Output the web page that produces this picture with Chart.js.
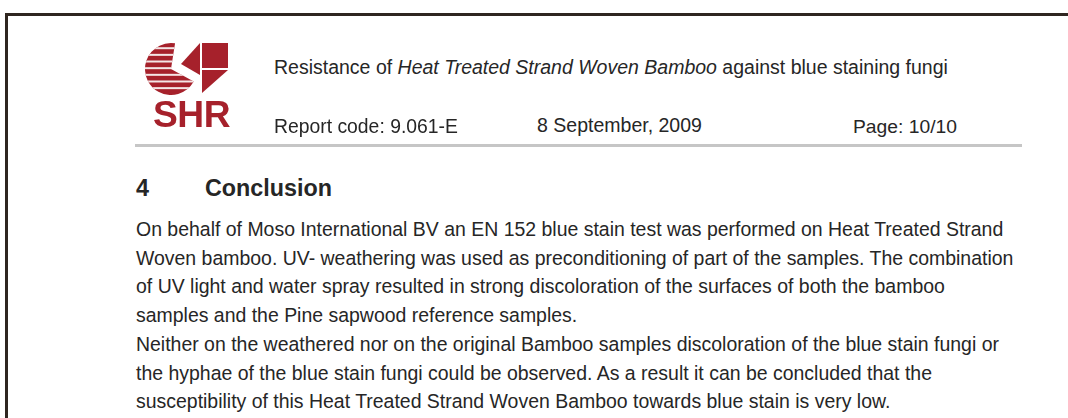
<!DOCTYPE html>
<html>
<head>
<meta charset="utf-8">
<script src="https://cdn.jsdelivr.net/npm/chart.js@4.4.0/dist/chart.umd.min.js"></script>
<style>
html, body { margin: 0; padding: 0; background: #fff; }
body { width: 1068px; height: 418px; overflow: hidden; position: relative;
       font-family: "Liberation Sans", Arial, sans-serif; color: #262626; }
#frame { position: absolute; left: 5px; top: 13px; width: 1200px; height: 600px;
         border-left: 3px solid #2f2620; border-top: 3px solid #2f2620; }
#rule { position: absolute; left: 135px; top: 144px; width: 887px; height: 3px; background: #c6c6c6; }
#logo { position: absolute; left: 140px; top: 38px; }
.t { position: absolute; white-space: nowrap; line-height: 1; font-size: 15px; }
.b { font-weight: bold; }
#shr { color: #a6212b; font-weight: bold; letter-spacing: -0.5px; }
</style>
</head>
<body>
<div id="frame"></div>
<canvas id="logo" width="95" height="62"></canvas>
<div id="rule"></div>
<div id="page"></div>

<script>
// texts of the page
const logoText = 'SHR';
const headerTitle = ['Resistance of ', 'Heat Treated Strand Woven Bamboo', ' against blue staining fungi'];
const headerMeta = ['Report code: 9.061-E', '8 September, 2009', 'Page: 10/10'];
const sectionNumber = '4';
const sectionTitle = 'Conclusion';
const paragraphLines = [
    'On behalf of Moso International BV an EN 152 blue stain test was performed on Heat Treated Strand',
    'Woven bamboo. UV- weathering was used as preconditioning of part of the samples. The combination',
    'of UV light and water spray resulted in strong discoloration of the surfaces of both the bamboo',
    'samples and the Pine sapwood reference samples.',
    'Neither on the weathered nor on the original Bamboo samples discoloration of the blue stain fungi or',
    'the hyphae of the blue stain fungi could be observed. As a result it can be concluded that the',
    'susceptibility of this Heat Treated Strand Woven Bamboo towards blue stain is very low.'
];

// logo: striped bowl (degrees of the circle) + blank part
const bowlShare = [250, 110];
const bowlStripes = 7;

const page = document.getElementById('page');

function addText(html, cls) {
    const el = document.createElement('div');
    el.className = 't ' + (cls || '');
    el.innerHTML = html;
    page.appendChild(el);
    return el;
}

// fit a line to a width, then sit it on its baseline
function place(el, x, baseline, width, fs) {
    el.style.fontSize = fs + 'px';
    if (width) {
        const w = el.getBoundingClientRect().width;
        fs = fs * width / w;
        el.style.fontSize = fs + 'px';
    }
    el.style.left = x + 'px';
    el.style.top = (baseline - 0.8465 * fs) + 'px';
    return fs;
}

// logo text
const shr = addText(logoText);
shr.id = 'shr';
place(shr, 153, 127, 77, 37);

// header
const title = addText(headerTitle[0] + '<i>' + headerTitle[1] + '</i>' + headerTitle[2]);
place(title, 274, 75, 674, 15);
place(addText(headerMeta[0]), 274, 133, 184, 15);
place(addText(headerMeta[1]), 537, 133, 165, 15);
place(addText(headerMeta[2]), 853, 133, 104, 15);

// section heading
const headSize = place(addText(sectionTitle, 'b'), 205, 197, 127, 19);
place(addText(sectionNumber, 'b'), 136, 197, 0, headSize);

// paragraph: one font size for all lines, fitted on the first
const firstLine = addText(paragraphLines[0]);
const paraSize = place(firstLine, 136, 236.5, 868, 16);
paragraphLines.forEach(function (line, i) {
    const el = i === 0 ? firstLine : addText(line);
    place(el, 136, 236.5 + i * 28.7, 0, paraSize);
});

// ------------------------------------------------------------
const logoRed = '#a6212b';

const logoMarks = {
    id: 'logoMarks',
    afterDatasetsDraw(chart) {
        const arc = chart.getDatasetMeta(0).data[0];
        const ctx = chart.ctx;
        const cx = arc.x, cy = arc.y, r = arc.outerRadius;

        // white stripes across the bowl
        ctx.save();
        ctx.beginPath();
        ctx.moveTo(cx, cy);
        ctx.arc(cx, cy, r, arc.startAngle, arc.endAngle);
        ctx.closePath();
        ctx.clip();
        ctx.fillStyle = '#f4e6e6';
        for (let k = 0; k < bowlStripes; k++) {
            ctx.fillRect(cx - r, cy - r * 0.8 + k * r * 0.256 - 1, 2 * r, 2);
        }
        ctx.restore();

        ctx.save();
        ctx.fillStyle = logoRed;
        // triangle next to the bowl
        ctx.beginPath();
        ctx.moveTo(cx + 10, cy - 5);
        ctx.lineTo(cx + 29, cy - 26);
        ctx.lineTo(cx + 29, cy + 6);
        ctx.closePath();
        ctx.fill();
        // square: upper half full, lower half a triangle
        ctx.fillRect(cx + 31, cy - 26, 26, 25);
        ctx.beginPath();
        ctx.moveTo(cx + 31, cy + 1);
        ctx.lineTo(cx + 57, cy + 1);
        ctx.lineTo(cx + 31, cy + 24);
        ctx.closePath();
        ctx.fill();
        ctx.restore();
    }
};

new Chart(document.getElementById('logo'), {
    type: 'pie',
    data: {
        labels: ['bowl', 'open'],
        datasets: [{
            data: bowlShare,
            backgroundColor: [logoRed, 'rgba(0,0,0,0)'],
            borderWidth: 0
        }]
    },
    options: {
        responsive: false,
        animation: false,
        events: [],
        rotation: 119,
        layout: { padding: { left: 5, top: 5, bottom: 5, right: 38 } },
        plugins: { legend: { display: false }, tooltip: { enabled: false } }
    },
    plugins: [logoMarks]
});
</script>
</body>
</html>
